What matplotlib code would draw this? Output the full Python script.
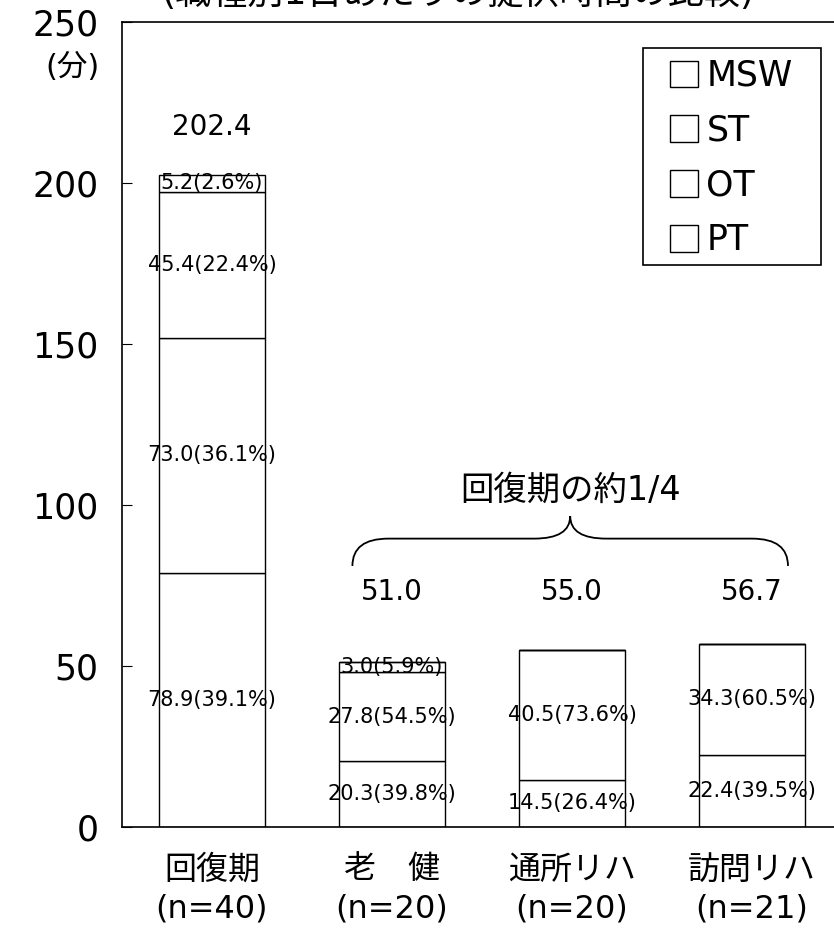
import matplotlib.pyplot as plt
from matplotlib.path import Path
from matplotlib.patches import PathPatch, Rectangle

plt.rcParams['font.family'] = ['DejaVu Sans', 'Noto Sans CJK JP']

# data (minutes per day)
categories = ['回復期\n(n=40)', '老　健\n(n=20)', '通所リハ\n(n=20)', '訪問リハ\n(n=21)']
pt = [78.9, 20.3, 14.5, 22.4]
ot = [73.0, 27.8, 40.5, 34.3]
st = [45.4, 3.0, 0.0, 0.0]
msw = [5.2, 0.0, 0.0, 0.0]
pt_pct = [39.1, 39.8, 26.4, 39.5]
ot_pct = [36.1, 54.5, 73.6, 60.5]
st_pct = [22.4, 5.9, 0.0, 0.0]
msw_pct = [2.6, 0.0, 0.0, 0.0]
totals = ['202.4', '51.0', '55.0', '56.7']

fig = plt.figure(figsize=(8.34, 9.34), dpi=100)
ax = fig.add_axes([122 / 834, 107.3 / 934, 720 / 834, 804.7 / 934])

x = range(len(categories))
width = 0.59
series = [('PT', pt, pt_pct), ('OT', ot, ot_pct), ('ST', st, st_pct), ('MSW', msw, msw_pct)]
bottoms = [0.0] * len(categories)
handles = []
for name, vals, pcts in series:
    bars = ax.bar(x, vals, width=width, bottom=bottoms, color='white',
                  edgecolor='black', linewidth=1.0, label=name)
    handles.append(bars)
    for i, (v, p) in enumerate(zip(vals, pcts)):
        if v > 0:
            ax.text(i, bottoms[i] + v / 2, f'{v:.1f}({p:.1f}%)', ha='center',
                    va='center', fontsize=15)
    bottoms = [b + v for b, v in zip(bottoms, vals)]

# total labels above bars
for i, t in enumerate(totals):
    y = bottoms[i] + 15 if i == 0 else 73
    ax.text(i, y, t, ha='center', va='center', fontsize=20)

# curly brace over the three community services
xl, xr, xc = 0.78, 3.2, 1.99
y0, y1, y2 = 81, 89.5, 96.5
r = 0.2
verts = [(xl, y0), (xl, y1), (xl + r, y1),
         (xc - r, y1),
         (xc, y1), (xc, y2),
         (xc, y1), (xc + r, y1),
         (xr - r, y1),
         (xr, y1), (xr, y0)]
codes = [Path.MOVETO, Path.CURVE3, Path.CURVE3,
         Path.LINETO,
         Path.CURVE3, Path.CURVE3,
         Path.CURVE3, Path.CURVE3,
         Path.LINETO,
         Path.CURVE3, Path.CURVE3]
ax.add_patch(PathPatch(Path(verts, codes), facecolor='none', edgecolor='black', linewidth=1.3))
ax.text(xc, 104.5, '回復期の約1/4', ha='center', va='center', fontsize=24)

ax.set_xlim(-0.5, 3.5)
ax.set_ylim(0, 250)
ax.set_yticks(range(0, 251, 50))
ax.set_xticks(list(x))
ax.set_xticklabels(categories, fontsize=23, linespacing=1.35)
ax.tick_params(axis='y', direction='in', length=7, labelsize=25, pad=17)
ax.tick_params(axis='x', length=0, pad=20)
ax.spines['right'].set_visible(False)
for s in ['left', 'top', 'bottom']:
    ax.spines[s].set_linewidth(1.2)

fig.text(72 / 834, 1 - 67 / 934, '(分)', ha='center', va='center', fontsize=22)

# legend, with its frame drawn separately for the wider side margins
leg = ax.legend(handles[::-1], ['MSW', 'ST', 'OT', 'PT'], loc='upper left',
                bbox_to_anchor=((670 - 122) / 720, (826.7 - 59) / 804.7), borderaxespad=0,
                fontsize=25, frameon=False, handlelength=0.8, handleheight=0.8,
                handletextpad=0.25, labelspacing=0.6, borderpad=0)
ax.add_patch(Rectangle(((643 - 122) / 720, (826.7 - 265) / 804.7), 178 / 720, 217 / 804.7,
                       transform=ax.transAxes, facecolor='none', edgecolor='black',
                       linewidth=1.2, zorder=5))

# title, cut off at the top edge in the original scan
fig.text(0.55, 1 - 4 / 934, '(職種別1日あたりの提供時間の比較)', ha='center',
         va='baseline', fontsize=26)

fig.savefig('out.png', dpi=100)
